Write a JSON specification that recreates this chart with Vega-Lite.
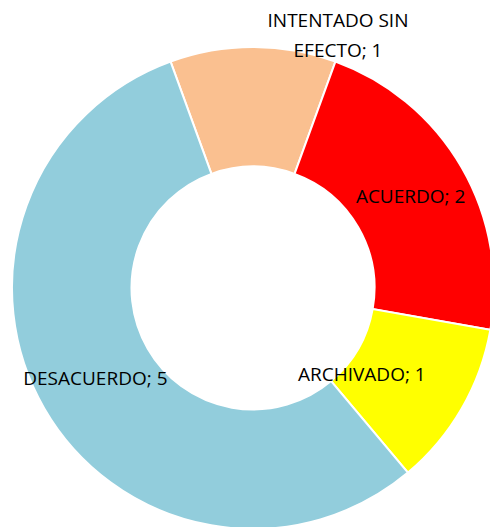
{
  "$schema": "https://vega.github.io/schema/vega-lite/v6.json",
  "autosize": "none",
  "width": 474,
  "height": 470,
  "padding": {"left": 16, "top": 53, "right": 0, "bottom": 4},
  "background": "white",
  "view": {"stroke": null},
  "data": {
    "values": [
      {"cat": "INTENTADO SIN EFECTO", "value": 1, "ord": 1, "label": ["INTENTADO SIN", "EFECTO; 1"]},
      {"cat": "ACUERDO", "value": 2, "ord": 2, "label": "ACUERDO; 2"},
      {"cat": "ARCHIVADO", "value": 1, "ord": 3, "label": "ARCHIVADO; 1"},
      {"cat": "DESACUERDO", "value": 5, "ord": 4, "label": "DESACUERDO; 5"}
    ]
  },
  "encoding": {
    "theta": {"field": "value", "type": "quantitative", "stack": true, "scale": {"range": [-0.34907, 5.93412]}},
    "order": {"field": "ord", "type": "quantitative"}
  },
  "layer": [
    {
      "mark": {"type": "arc", "radius": 241, "radius2": 121.5, "stroke": "white", "strokeWidth": 2},
      "encoding": {
        "color": {
          "field": "cat", "type": "nominal", "legend": null,
          "scale": {
            "domain": ["INTENTADO SIN EFECTO", "ACUERDO", "ARCHIVADO", "DESACUERDO"],
            "range": ["#FAC090", "#FF0000", "#FFFF00", "#92CDDC"]
          }
        }
      }
    },
    {
      "mark": {"type": "text", "radius": 182, "font": "Open Sans", "fontSize": 19, "color": "black", "baseline": "middle", "align": "center"},
      "encoding": {
        "text": {"condition": {"test": "datum.cat === 'ACUERDO' || datum.cat === 'DESACUERDO'", "field": "label"}, "value": ""}
      }
    },
    {
      "mark": {"type": "text", "radius": 128, "dx": -2, "dy": 23, "font": "Open Sans", "fontSize": 19, "color": "black", "baseline": "middle", "align": "center"},
      "encoding": {
        "text": {"condition": {"test": "datum.cat === 'ARCHIVADO'", "field": "label"}, "value": ""}
      }
    },
    {
      "mark": {"type": "text", "radius": 253, "dx": 85, "dy": -14, "font": "Open Sans", "fontSize": 19, "lineHeight": 30, "color": "black", "baseline": "middle", "align": "center"},
      "encoding": {
        "text": {"condition": {"test": "datum.cat === 'INTENTADO SIN EFECTO'", "field": "label"}, "value": ""}
      }
    }
  ]
}
